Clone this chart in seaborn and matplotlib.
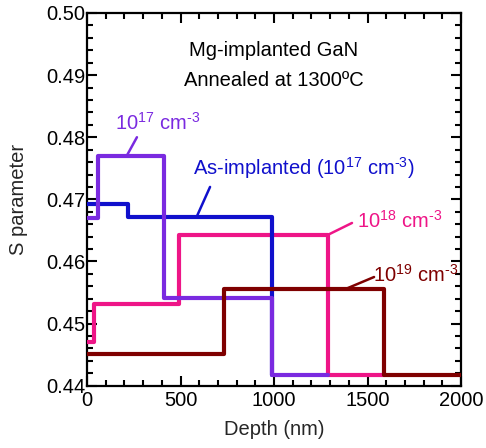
import matplotlib
matplotlib.use("Agg")
import matplotlib.pyplot as plt
import seaborn as sns
import pandas as pd
from matplotlib.ticker import MultipleLocator

# ---- data (step profiles: layer start depth, S value) ----
as_impl_x = [0, 218, 990]
as_impl_y = [0.4693, 0.4672, 0.4417]
e17_x = [0, 60, 413, 990, 1287]
e17_y = [0.4670, 0.4770, 0.4542, 0.4417, 0.4417]
e18_x = [0, 39, 492, 1287, 1590]
e18_y = [0.4470, 0.4532, 0.4642, 0.4417, 0.4417]
e19_x = [0, 731, 1588, 2000]
e19_y = [0.4451, 0.4555, 0.4417, 0.4417]

series_names = ["1e18", "as", "1e17", "1e19"]
colors = {"as": "#1010CC", "1e17": "#7A2AE0", "1e18": "#EE1587", "1e19": "#7F0000"}

sns.set_theme(style="ticks")
plt.rcParams["font.family"] = ["Liberation Sans", "DejaVu Sans"]
plt.rcParams["mathtext.fontset"] = "custom"
plt.rcParams["mathtext.rm"] = "Liberation Sans"
plt.rcParams["mathtext.it"] = "Liberation Sans"

FS = 14.5

fig = plt.figure(figsize=(4.86, 4.48), dpi=100)
ax = fig.add_axes([0.179, 0.139, 0.7696, 0.832])

data = {
    "1e18": (e18_x, e18_y),
    "as": (as_impl_x, as_impl_y),
    "1e17": (e17_x, e17_y),
    "1e19": (e19_x, e19_y),
}
for z, name in enumerate(series_names):
    xs, ys = data[name]
    df = pd.DataFrame({"depth": xs, "S": ys})
    sns.lineplot(data=df, x="depth", y="S", ax=ax, sort=False, estimator=None,
                 drawstyle="steps-post", color=colors[name], lw=3.0, zorder=3 + z)

ax.set_xlim(0, 2000)
ax.set_ylim(0.44, 0.50)
ax.xaxis.set_major_locator(MultipleLocator(500))
ax.xaxis.set_minor_locator(MultipleLocator(100))
ax.yaxis.set_major_locator(MultipleLocator(0.01))
ax.yaxis.set_minor_locator(MultipleLocator(0.002))
ax.yaxis.set_major_formatter(matplotlib.ticker.FormatStrFormatter("%.2f"))
ax.tick_params(which="both", direction="in", top=True, right=True, colors="black",
               labelsize=FS, width=1.5)
ax.tick_params(axis="y", which="both", pad=1)
ax.tick_params(axis="x", which="both", pad=4)
ax.tick_params(which="major", length=7)
ax.tick_params(which="minor", length=4)
for s in ax.spines.values():
    s.set_linewidth(1.6)
    s.set_color("black")

ax.set_xlabel("Depth (nm)", fontsize=FS, labelpad=7)
ax.set_ylabel("S parameter", fontsize=FS, labelpad=13)

ax.text(1000, 0.4931, "Mg-implanted GaN", ha="center", va="baseline", fontsize=FS, color="black")
ax.text(1000, 0.4882, "Annealed at 1300ºC", ha="center", va="baseline", fontsize=FS, color="black")

sup = r"$\mathregular{^{%s}}$"
m3 = sup % "\u20103"
ax.text(150, 0.4812, "10" + sup % "17" + " cm" + m3, color=colors["1e17"], fontsize=FS, va="baseline")
ax.text(565, 0.4739, "As-implanted (10" + sup % "17" + " cm" + m3 + ")", color=colors["as"], fontsize=FS, va="baseline")
ax.text(1444, 0.4654, "10" + sup % "18" + " cm" + m3, color=colors["1e18"], fontsize=FS, va="baseline")
ax.text(1529, 0.4567, "10" + sup % "19" + " cm" + m3, color=colors["1e19"], fontsize=FS, va="baseline")

# leader lines
leaders = [
    ((214, 267), (0.4771, 0.4800), "1e17"),
    ((588, 658), (0.4673, 0.4720), "as"),
    ((1289, 1417), (0.4643, 0.4662), "1e18"),
    ((1385, 1535), (0.4556, 0.4575), "1e19"),
]
for lx, ly, name in leaders:
    ax.plot(lx, ly, color=colors[name], lw=1.8, zorder=10)

fig.savefig("out.png", dpi=100)
